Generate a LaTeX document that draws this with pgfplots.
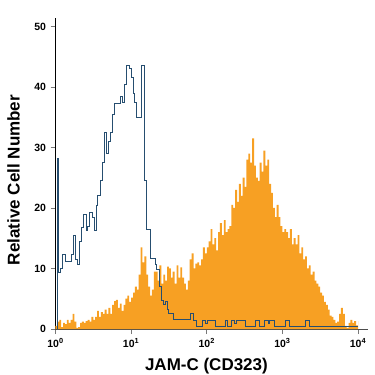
\documentclass[border=0pt]{standalone}
\usepackage{pgfplots}
\pgfplotsset{compat=1.18}
\usepackage{pgfplotstable}
\usepackage{fontspec}
\setmainfont{Liberation Sans}
\definecolor{orangeC}{RGB}{247,160,35}
\definecolor{blueC}{RGB}{38,78,112}
\definecolor{tickC}{RGB}{120,120,120}

\pgfplotstableread{
lx y
0.000 0.5
0.025 1.2
0.050 1.5
0.075 0.3
0.100 1.0
0.125 0.8
0.150 1.5
0.175 1.0
0.200 1.5
0.225 2.5
0.250 1.2
0.275 0.2
0.300 0.3
0.325 1.0
0.350 1.2
0.375 1.0
0.400 1.3
0.425 1.5
0.450 1.2
0.475 2.0
0.500 1.5
0.525 2.0
0.550 3.0
0.575 2.0
0.600 2.8
0.625 2.5
0.650 3.2
0.675 2.5
0.700 3.5
0.725 2.5
0.750 4.0
0.775 4.6
0.800 4.8
0.825 3.5
0.850 4.2
0.875 3.0
0.900 4.0
0.925 5.0
0.950 5.5
0.975 4.5
1.000 5.2
1.025 6.0
1.050 7.0
1.075 6.5
1.100 9.0
1.125 13.5
1.150 11.0
1.175 12.0
1.200 9.0
1.225 7.0
1.250 5.5
1.275 6.5
1.300 9.5
1.325 9.5
1.350 8.0
1.375 10.5
1.400 7.5
1.425 9.0
1.450 8.0
1.475 10.3
1.500 10.0
1.525 8.5
1.550 9.5
1.575 7.5
1.600 10.5
1.625 8.5
1.650 10.2
1.675 8.5
1.700 7.5
1.725 6.5
1.750 8.0
1.775 11.5
1.800 12.5
1.825 10.0
1.850 10.8
1.875 11.0
1.900 10.5
1.925 11.5
1.950 13.5
1.975 12.5
2.000 13.5
2.025 14.5
2.050 16.5
2.075 14.0
2.100 15.0
2.125 13.0
2.150 16.0
2.175 17.5
2.200 15.5
2.225 18.0
2.250 16.0
2.275 16.5
2.300 17.0
2.325 20.5
2.350 20.0
2.375 23.0
2.400 21.0
2.425 24.0
2.450 22.0
2.475 25.0
2.500 23.5
2.525 28.0
2.550 29.0
2.575 27.5
2.600 31.5
2.625 27.0
2.650 25.0
2.675 24.5
2.700 27.5
2.725 26.0
2.750 29.5
2.775 27.0
2.800 28.0
2.825 24.0
2.850 22.5
2.875 20.0
2.900 18.5
2.925 20.5
2.950 18.5
2.975 17.0
3.000 16.0
3.025 16.5
3.050 16.0
3.075 15.0
3.100 16.5
3.125 14.0
3.150 15.0
3.175 14.0
3.200 15.5
3.225 12.5
3.250 13.5
3.275 11.5
3.300 12.0
3.325 10.0
3.350 10.5
3.375 9.0
3.400 9.5
3.425 8.0
3.450 7.5
3.475 7.0
3.500 6.0
3.525 5.5
3.550 4.5
3.575 4.0
3.600 3.2
3.625 2.2
3.650 2.0
3.675 1.5
3.700 1.0
3.725 1.2
3.750 2.5
3.775 3.5
3.800 2.5
3.825 0.5
3.850 0.2
3.875 1.0
3.900 1.5
3.925 1.0
3.950 1.3
3.975 0.6
4.000 1.3
}\orangedata

\pgfplotstableread{
lx y
0.025 0
0.025 28.2
0.040 9.3
0.062 10.0
0.092 12.3
0.128 11.2
0.216 12.3
0.238 15.5
0.260 11.5
0.290 10.6
0.317 14.5
0.343 16.8
0.370 19.0
0.405 16.3
0.427 17.0
0.449 19.3
0.484 18.5
0.515 16.3
0.537 20.5
0.559 22.0
0.590 24.5
0.616 27.5
0.642 32.5
0.673 29.0
0.695 31.0
0.722 32.5
0.757 35.5
0.783 37.3
0.862 38.5
0.889 37.5
0.915 40.5
0.942 43.5
0.981 43.0
1.003 41.5
1.025 39.0
1.047 37.5
1.074 35.0
1.135 43.5
1.171 24.5
1.206 16.4
1.259 11.6
1.316 10.6
1.338 9.8
1.373 7.0
1.395 4.8
1.426 4.0
1.452 4.5
1.478 3.3
1.496 2.5
1.558 1.6
1.778 2.6
1.822 1.5
1.857 0.5
1.936 1.4
1.980 1.0
2.002 1.4
2.108 0.4
2.240 1.4
2.275 0.4
2.328 1.4
2.372 1.0
2.394 1.5
2.508 0.4
2.649 1.4
2.702 0.4
2.768 1.4
2.812 0.9
2.834 1.4
2.900 0.4
3.045 1.4
3.098 0.4
3.309 1.4
3.362 0.4
4.000 0.4
}\bluedata

\begin{document}
\begin{tikzpicture}
\useasboundingbox (-55.5pt,-46pt) rectangle (319.5pt,329pt);
\begin{axis}[
  at={(0pt,0pt)}, anchor=south west,
  scale only axis, width=312.5pt, height=311pt,
  xmode=log, log basis x=10,
  xmin=1, xmax=13552, ymin=0, ymax=51.4,
  axis lines=left, axis line style={-},
  x axis line style={draw=black!70, line width=0.8pt},
  y axis line style={draw=black, line width=0.8pt},
  tick align=outside,
  major tick length=5pt, minor tick length=5pt,
  every tick/.style={draw=tickC, line width=0.6pt},
  xtick={1,10,100,1000,10000},
  xticklabels={10\textsuperscript{0},10\textsuperscript{1},10\textsuperscript{2},10\textsuperscript{3},10\textsuperscript{4}},
  ytick={0,10,20,30,40,50},
  yticklabels={0,10,20,30,40,50},
  tick label style={font=\bfseries\fontsize{10.5}{12}\selectfont},
  xticklabel style={yshift=-1pt},
  yticklabel style={xshift=-1pt},
  xlabel={JAM-C (CD323)},
  ylabel={Relative Cell Number},
  label style={font=\bfseries\fontsize{17}{20}\selectfont},
  xlabel style={at={(axis description cs:0.483,-0.135)}, anchor=base},
  ylabel style={at={(axis description cs:-0.134,0.479)}, anchor=center, rotate=0},
  clip=false,
]
\addplot[fill=orangeC, draw=none, const plot, forget plot]
  table[x expr=10^\thisrow{lx}, y=y] {\orangedata} \closedcycle;
\addplot[draw=blueC, line width=0.8pt, const plot, forget plot]
  table[x expr=10^\thisrow{lx}, y=y] {\bluedata};
\end{axis}
\end{tikzpicture}
\end{document}
